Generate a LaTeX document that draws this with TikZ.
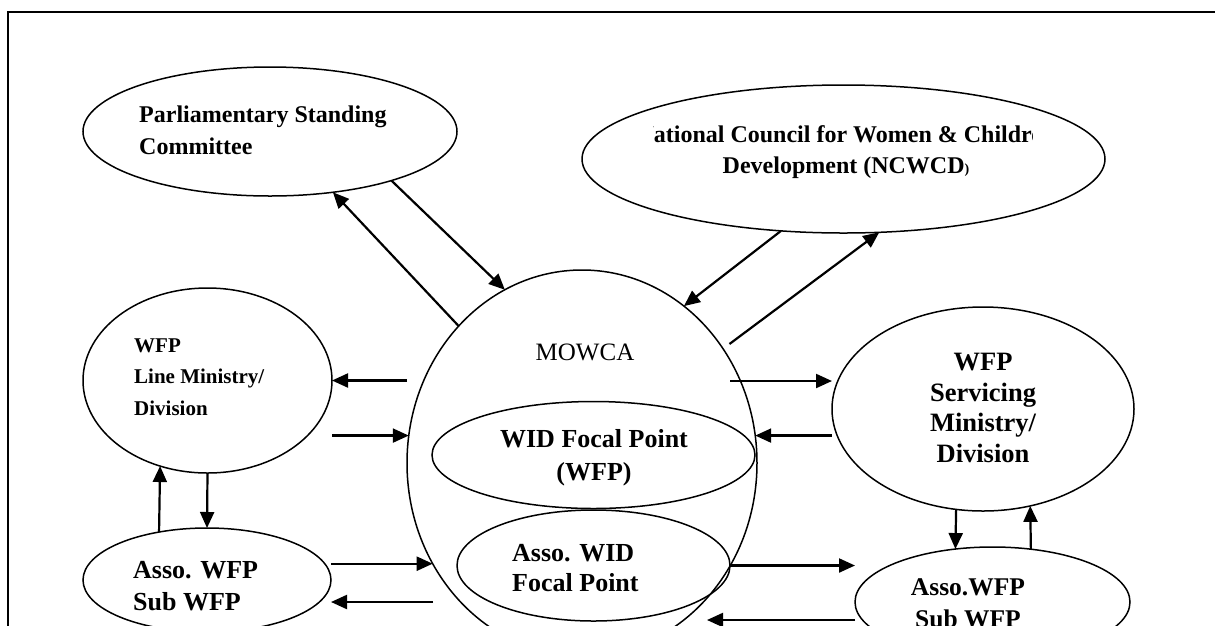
\documentclass[tikz,border=0pt]{standalone}
\usepackage{fontspec}
\setmainfont{Liberation Serif}
\usetikzlibrary{shapes.geometric,arrows.meta}

\newcommand{\fsz}[2]{\fontsize{#1}{#2}\selectfont}

\begin{document}
\begin{tikzpicture}[x=1pt,y=-1pt,
    ell/.style={draw, ellipse, line width=1.5pt, inner sep=0pt, outer sep=0pt},
    arr/.style={line width=2.2pt, -{Triangle[length=16pt,width=14pt]}},
    txt/.style={inner sep=0pt}]
      \useasboundingbox (0,0) rectangle (1215,625);

      % Frame
      \draw[line width=2pt] (8,640) -- (8,11.5) -- (1230,11.5);

      % Parliamentary Standing Committee
      \node[ell, minimum width=374pt, minimum height=129pt] (psc) at (270,131.5) {};
      \node[txt, anchor=west, align=left, font=\bfseries\fsz{24}{32}] (psctxt) at (139,130) {Parliamentary Standing\\Committee};

      % NCWCD
      \node[ell, minimum width=523pt, minimum height=148pt] (ncwcd) at (843.5,159) {};
      \begin{scope}
        \clip (653,110) rectangle (1032,190);
        \node[txt, align=center, font=\bfseries\fsz{24}{31}] (ncwcdtxt) at (846,152) {National Council for Women \& Children\\Development (NCWCD{\fsz{14}{14})}};
      \end{scope}

      % MOWCA
      \node[ell, minimum width=350pt, minimum height=386pt] (mowca) at (582,463) {};
      \node[txt, font=\fsz{25}{30}] (mowcatxt) at (585,352) {MOWCA};
      \node[ell, minimum width=323pt, minimum height=107pt] (wid) at (593.5,455) {};
      \node[txt, align=center, font=\bfseries\fsz{26}{33}] (widtxt) at (594,458) {WID Focal Point\\(WFP)};
      \node[ell, minimum width=273pt, minimum height=111pt] (awid) at (593.5,565.5) {};
      \node[txt, anchor=west, align=left, font=\bfseries\fsz{26}{30}] (awidtxt) at (512,568) {Asso. WID\\Focal Point};

      % Line Ministry
      \node[ell, minimum width=249pt, minimum height=185pt] (lm) at (207.5,380.5) {};
      \node[txt, anchor=west, align=left, font=\bfseries\fsz{21}{31.5}] (lmtxt) at (134,377) {WFP\\Line Ministry/\\Division};
      \node[ell, minimum width=248pt, minimum height=104pt] (asl) at (207,580) {};
      \node[txt, anchor=west, align=left, font=\bfseries\fsz{26}{32}] (asltxt) at (133,586) {Asso. WFP\\Sub WFP};

      % Servicing Ministry
      \node[ell, minimum width=302pt, minimum height=204pt] (srv) at (983,409) {};
      \node[txt, align=center, font=\bfseries\fsz{26.5}{30.7}] (srvtxt) at (983,408) {WFP\\Servicing\\Ministry/\\Division};
      \node[ell, minimum width=275pt, minimum height=110pt] (asr) at (992.5,602) {};
      \node[txt, align=center, font=\bfseries\fsz{25.5}{32}] (asrtxt) at (968,603) {Asso.WFP\\Sub WFP};

      % Arrows
      \coordinate (m10) at (433,602);
      \coordinate (m11) at (730,381);
      \coordinate (m16) at (707,620);
      \draw[arr] (psc.-22) -- (mowca.114);
      \draw[arr] (mowca.132) -- (psc.-44);
      \draw[arr] (ncwcd.-131) -- (mowca.57);
      \draw[arr, shorten <=8pt] (mowca.39) -- (ncwcd.-64);
      \draw[arr] (mowca.west |- lm.east) -- (lm.east);
      \draw[arr] (lm.east |- mowca.171) -- (mowca.171);
      \draw[arr] (lm.south) -- (asl.north);
      \draw[arr] (asl.135) -- (lm.-119);
      \draw[arr] (asl.east |- mowca.214) -- (mowca.214);
      \draw[arr] (m10) -- (asl.east |- m10);
      \draw[arr] (m11) -- (srv.west |- m11);
      \draw[arr] (srv.west |- mowca.9) -- (mowca.9);
      \draw[arr] (srv.-105) -- (asr.125);
      \draw[arr] (asr.54) -- (srv.-64);
      \draw[arr] (awid.east) -- (asr.west |- awid.east);
      \draw[arr] (asr.west |- m16) -- (m16);
    \end{tikzpicture}
\end{document}
